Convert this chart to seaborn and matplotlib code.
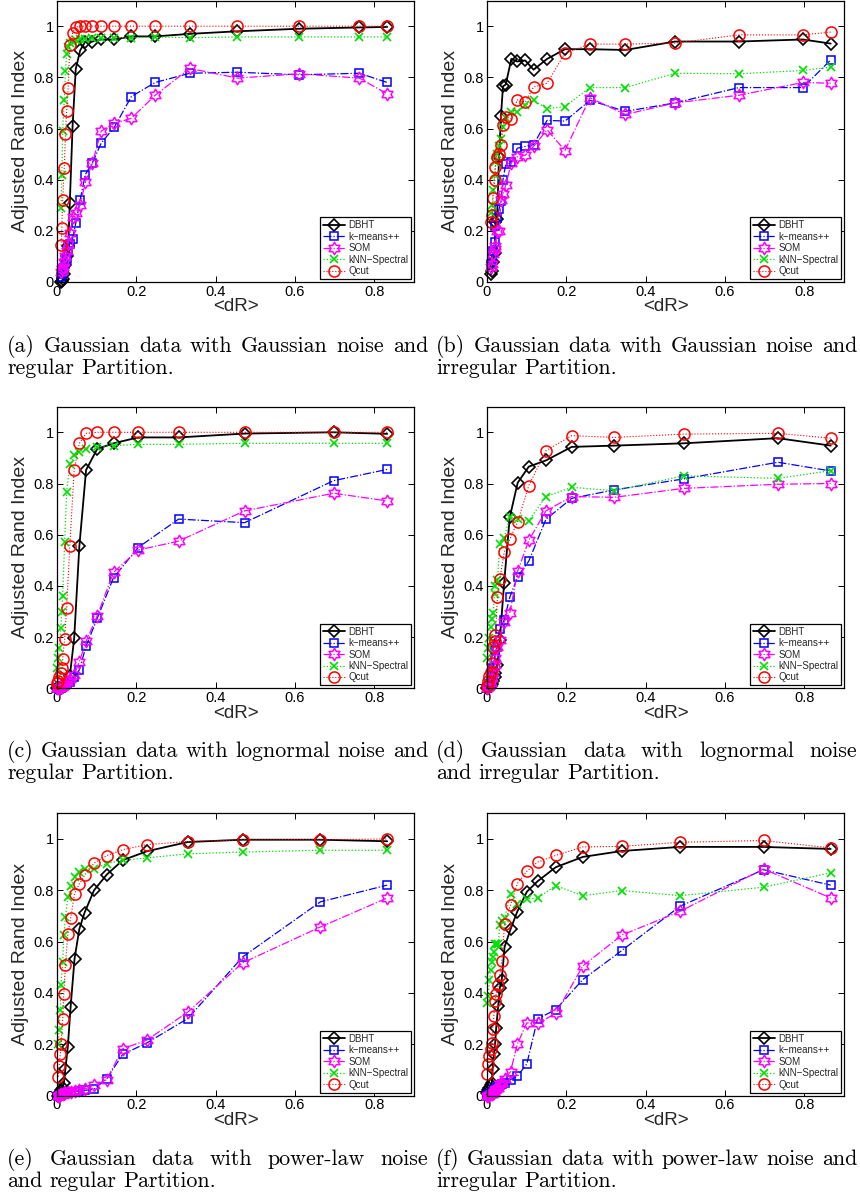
import numpy as np
import matplotlib
matplotlib.use("Agg")
import matplotlib.pyplot as plt
from matplotlib.path import Path
import seaborn as sns

# ---------------- data: ARI versus mean dR, one block per panel ----------------
x_a = [0.011, 0.013, 0.015, 0.019, 0.022, 0.025, 0.029, 0.033, 0.040, 0.048, 0.059,
       0.072, 0.090, 0.112, 0.145, 0.188, 0.248, 0.335, 0.455, 0.610, 0.762, 0.832]
dbht_a = [0.0, 0.003, 0.01, 0.03, 0.065, 0.10, 0.14, 0.31, 0.61, 0.833, 0.905,
          0.94, 0.94, 0.948, 0.948, 0.96, 0.96, 0.97, 0.98, 0.99, 0.995, 0.997]
kmeans_a = [0.02, 0.03, 0.04, 0.055, 0.07, 0.09, 0.12, 0.15, 0.17, 0.23, 0.32,
            0.42, 0.466, 0.543, 0.605, 0.725, 0.78, 0.816, 0.82, 0.81, 0.816, 0.78]
som_a = [0.04, 0.05, 0.06, 0.08, 0.10, 0.12, 0.15, 0.19, 0.254, 0.27, 0.30,
         0.39, 0.466, 0.59, 0.62, 0.64, 0.73, 0.835, 0.797, 0.814, 0.797, 0.735]
knn_a = [0.29, 0.42, 0.59, 0.71, 0.826, 0.89, 0.92, 0.935, 0.94, 0.945, 0.95,
         0.95, 0.952, 0.952, 0.955, 0.955, 0.958, 0.955, 0.958, 0.958, 0.958, 0.958]
qcut_a = [0.143, 0.21, 0.32, 0.445, 0.577, 0.67, 0.76, 0.927, 0.974, 0.996, 1.0,
          1.0, 1.0, 1.0, 1.0, 1.0, 1.0, 1.0, 1.0, 1.0, 1.0, 1.0]

x_b = [0.011, 0.014, 0.016, 0.020, 0.022, 0.026, 0.031, 0.036, 0.041, 0.048, 0.062,
       0.077, 0.097, 0.118, 0.152, 0.197, 0.260, 0.349, 0.474, 0.635, 0.796, 0.866]
dbht_b = [0.03, 0.043, 0.08, 0.115, 0.235, 0.245, 0.488, 0.65, 0.765, 0.772, 0.872,
          0.862, 0.866, 0.83, 0.872, 0.91, 0.91, 0.907, 0.94, 0.94, 0.948, 0.932]
kmeans_b = [0.07, 0.09, 0.12, 0.156, 0.22, 0.25, 0.284, 0.315, 0.40, 0.46, 0.47,
            0.523, 0.53, 0.537, 0.632, 0.629, 0.71, 0.667, 0.70, 0.76, 0.76, 0.868]
som_b = [0.06, 0.07, 0.11, 0.13, 0.14, 0.20, 0.20, 0.32, 0.345, 0.378, 0.466,
         0.49, 0.495, 0.53, 0.595, 0.514, 0.72, 0.655, 0.70, 0.73, 0.78, 0.777]
knn_b = [0.27, 0.30, 0.358, 0.42, 0.47, 0.50, 0.53, 0.56, 0.605, 0.64, 0.665,
         0.665, 0.69, 0.71, 0.677, 0.686, 0.76, 0.76, 0.816, 0.814, 0.827, 0.84]
qcut_b = [0.234, 0.26, 0.33, 0.397, 0.45, 0.49, 0.50, 0.534, 0.615, 0.645, 0.638,
          0.712, 0.703, 0.762, 0.777, 0.895, 0.93, 0.93, 0.934, 0.966, 0.966, 0.977]

x_c = [0.002, 0.004, 0.007, 0.010, 0.013, 0.015, 0.020, 0.025, 0.033, 0.044,
       0.057, 0.074, 0.102, 0.143, 0.205, 0.307, 0.473, 0.697, 0.832]
dbht_c = [0.0, 0.0, 0.0, 0.002, 0.004, 0.006, 0.01, 0.02, 0.047, 0.195,
          0.555, 0.853, 0.935, 0.957, 0.98, 0.98, 0.995, 1.0, 0.994]
kmeans_c = [0.0, 0.0, 0.003, 0.005, 0.008, 0.01, 0.013, 0.018, 0.026, 0.045,
            0.072, 0.165, 0.273, 0.432, 0.55, 0.661, 0.647, 0.811, 0.855]
som_c = [0.0, 0.0, 0.002, 0.004, 0.006, 0.01, 0.015, 0.025, 0.035, 0.052,
         0.104, 0.183, 0.283, 0.453, 0.54, 0.575, 0.693, 0.762, 0.732]
knn_c = [0.08, 0.12, 0.156, 0.234, 0.30, 0.362, 0.57, 0.766, 0.875, 0.91,
         0.925, 0.934, 0.944, 0.948, 0.953, 0.953, 0.957, 0.957, 0.957]
qcut_c = [0.02, 0.03, 0.045, 0.06, 0.08, 0.115, 0.193, 0.313, 0.557, 0.853,
          0.957, 0.996, 1.0, 1.0, 1.0, 1.0, 1.0, 1.0, 1.0]

x_d = [0.002, 0.004, 0.007, 0.010, 0.013, 0.016, 0.020, 0.022, 0.027, 0.033,
       0.044, 0.058, 0.078, 0.106, 0.149, 0.214, 0.321, 0.496, 0.733, 0.866]
dbht_d = [0.0, 0.002, 0.005, 0.01, 0.015, 0.03, 0.045, 0.058, 0.09, 0.19,
          0.413, 0.668, 0.803, 0.866, 0.89, 0.943, 0.948, 0.957, 0.977, 0.948]
kmeans_d = [0.0, 0.005, 0.015, 0.03, 0.05, 0.08, 0.12, 0.15, 0.16, 0.23,
            0.267, 0.355, 0.436, 0.497, 0.66, 0.742, 0.775, 0.818, 0.883, 0.849]
som_d = [0.0, 0.005, 0.01, 0.02, 0.04, 0.06, 0.09, 0.12, 0.16, 0.19,
         0.26, 0.293, 0.458, 0.578, 0.693, 0.749, 0.746, 0.781, 0.797, 0.80]
knn_d = [0.12, 0.156, 0.195, 0.24, 0.27, 0.293, 0.37, 0.40, 0.423, 0.564,
         0.586, 0.67, 0.66, 0.655, 0.749, 0.785, 0.772, 0.83, 0.82, 0.85]
qcut_d = [0.01, 0.03, 0.05, 0.065, 0.098, 0.16, 0.185, 0.21, 0.355, 0.426,
          0.531, 0.582, 0.651, 0.792, 0.928, 0.987, 0.98, 0.993, 0.996, 0.977]

x_e = [0.004, 0.006, 0.009, 0.011, 0.015, 0.018, 0.022, 0.028, 0.035, 0.045,
       0.057, 0.070, 0.094, 0.126, 0.166, 0.227, 0.330, 0.468, 0.664, 0.832]
dbht_e = [0.0, 0.005, 0.01, 0.02, 0.03, 0.049, 0.105, 0.19, 0.345, 0.534,
          0.649, 0.712, 0.80, 0.861, 0.917, 0.952, 0.988, 0.997, 0.997, 0.991]
kmeans_e = [0.0, 0.0, 0.0, 0.002, 0.004, 0.006, 0.008, 0.01, 0.012, 0.015,
            0.018, 0.02, 0.025, 0.065, 0.16, 0.205, 0.30, 0.54, 0.755, 0.82]
som_e = [0.0, 0.0, 0.002, 0.004, 0.006, 0.008, 0.01, 0.012, 0.015, 0.018,
         0.02, 0.025, 0.039, 0.062, 0.182, 0.216, 0.325, 0.517, 0.657, 0.77]
knn_e = [0.2, 0.257, 0.335, 0.432, 0.52, 0.625, 0.696, 0.773, 0.815, 0.852,
         0.87, 0.884, 0.884, 0.904, 0.917, 0.926, 0.942, 0.949, 0.956, 0.956]
qcut_e = [0.073, 0.114, 0.16, 0.2, 0.3, 0.397, 0.51, 0.63, 0.69, 0.786,
          0.825, 0.858, 0.906, 0.935, 0.958, 0.978, 0.99, 0.997, 0.997, 1.0]

x_f = [0.002, 0.004, 0.007, 0.010, 0.013, 0.015, 0.018, 0.021, 0.024, 0.029, 0.033,
       0.038, 0.045, 0.060, 0.077, 0.101, 0.128, 0.174, 0.242, 0.340, 0.487, 0.697, 0.866]
dbht_f = [0.01, 0.02, 0.03, 0.04, 0.049, 0.104, 0.16, 0.2, 0.265, 0.35, 0.42,
          0.452, 0.579, 0.648, 0.717, 0.794, 0.835, 0.89, 0.93, 0.953, 0.969, 0.969, 0.961]
kmeans_f = [0.0, 0.002, 0.005, 0.008, 0.01, 0.015, 0.02, 0.025, 0.03, 0.035, 0.04,
            0.045, 0.05, 0.062, 0.075, 0.123, 0.299, 0.335, 0.452, 0.565, 0.738, 0.88, 0.82]
som_f = [0.0, 0.0, 0.002, 0.004, 0.006, 0.01, 0.015, 0.02, 0.025, 0.03, 0.043,
         0.05, 0.065, 0.093, 0.2, 0.283, 0.281, 0.32, 0.505, 0.625, 0.718, 0.883, 0.77]
knn_f = [0.36, 0.387, 0.45, 0.49, 0.52, 0.54, 0.56, 0.59, 0.59, 0.59, 0.665,
         0.68, 0.69, 0.784, 0.748, 0.766, 0.77, 0.818, 0.779, 0.799, 0.779, 0.812, 0.868]
qcut_f = [0.082, 0.121, 0.153, 0.18, 0.205, 0.26, 0.309, 0.37, 0.396, 0.429, 0.469,
          0.523, 0.67, 0.743, 0.826, 0.874, 0.91, 0.936, 0.969, 0.971, 0.987, 0.994, 0.965]

method_names = ["DBHT", "k\u2212means++", "SOM", "kNN\u2212Spectral", "Qcut"]
x_ticks = [0, 0.2, 0.4, 0.6, 0.8]
x_tick_labels = ["0", "0.2", "0.4", "0.6", "0.8"]
y_ticks = [0, 0.2, 0.4, 0.6, 0.8, 1.0]
y_tick_labels = ["0", "0.2", "0.4", "0.6", "0.8", "1"]

captions = [
    ("(a) Gaussian data with Gaussian noise and", "regular Partition."),
    ("(b) Gaussian data with Gaussian noise and", "irregular Partition."),
    ("(c) Gaussian data with lognormal noise and", "regular Partition."),
    ("(d) Gaussian data with lognormal noise", "and irregular Partition."),
    ("(e) Gaussian data with power-law noise", "and regular Partition."),
    ("(f) Gaussian data with power-law noise and", "irregular Partition."),
]

panels = [
    (x_a, [dbht_a, kmeans_a, som_a, knn_a, qcut_a]),
    (x_b, [dbht_b, kmeans_b, som_b, knn_b, qcut_b]),
    (x_c, [dbht_c, kmeans_c, som_c, knn_c, qcut_c]),
    (x_d, [dbht_d, kmeans_d, som_d, knn_d, qcut_d]),
    (x_e, [dbht_e, kmeans_e, som_e, knn_e, qcut_e]),
    (x_f, [dbht_f, kmeans_f, som_f, knn_f, qcut_f]),
]

# ---------------- styling ----------------
sns.set_theme(style="ticks")
plt.rcParams["font.family"] = ["Liberation Sans", "DejaVu Sans"]
plt.rcParams["axes.unicode_minus"] = True

# six-pointed star (hexagram) outline used for the SOM series
_ang_out = np.pi / 2 + np.arange(6) * np.pi / 3
_ang_in = _ang_out + np.pi / 6
_r_in = 1 / np.sqrt(3)
_verts = []
for ao, ai in zip(_ang_out, _ang_in):
    _verts.append((np.cos(ao), np.sin(ao)))
    _verts.append((_r_in * np.cos(ai), _r_in * np.sin(ai)))
_verts.append(_verts[0])
hexagram = Path(_verts, closed=True)

styles = [
    dict(color="black", ls="-", lw=1.3, marker="D", ms=6.5, mew=1.2),
    dict(color="#0000ff", ls="-.", lw=0.9, marker="s", ms=6.0, mew=1.1),
    dict(color="#ff00ff", ls="-.", lw=0.9, marker=hexagram, ms=9.0, mew=1.1),
    dict(color="#00e000", ls=":", lw=0.9, marker="x", ms=5.5, mew=1.2),
    dict(color="#ff0000", ls=":", lw=0.8, marker="o", ms=8.0, mew=1.1),
]

W, H = 860, 1201
fig = plt.figure(figsize=(W / 100, H / 100), dpi=100)
fig.patch.set_facecolor("white")

col_left = [56.7, 486.7]
row_span = [(0.6, 282.0), (406.7, 688.3), (813.3, 1095.5)]
ax_width = 357.5

axes = []
for i, (xs, series) in enumerate(panels):
    r, c = divmod(i, 2)
    top, bot = row_span[r]
    ax = fig.add_axes([col_left[c] / W, 1 - bot / H, ax_width / W, (bot - top) / H])
    ax.set_facecolor("white")
    for ys, st, name in zip(series, styles, method_names):
        sns.lineplot(x=xs, y=ys, ax=ax, color=st["color"], linestyle=st["ls"],
                     linewidth=st["lw"], marker=st["marker"], markersize=st["ms"],
                     markerfacecolor="none", markeredgecolor=st["color"],
                     markeredgewidth=st["mew"], label=name, errorbar=None,
                     estimator=None, sort=False, clip_on=False)
    ax.set_xlim(0, 0.90)
    ax.set_ylim(0, 1.1)
    ax.set_xticks(x_ticks)
    ax.set_xticklabels(x_tick_labels)
    ax.set_yticks(y_ticks)
    ax.set_yticklabels(y_tick_labels)
    ax.tick_params(direction="in", top=True, right=True, length=4, width=0.7,
                   labelsize=10.5, pad=2.0, colors="black")
    for sp in ax.spines.values():
        sp.set_visible(True)
        sp.set_color("black")
        sp.set_linewidth(0.9)
    ax.set_xlabel("<dR>", fontsize=13.5)
    ax.set_ylabel("Adjusted Rand Index", fontsize=14)
    ax.xaxis.set_label_coords(0.5, -0.058)
    ax.yaxis.set_label_coords(-0.078, 0.5)
    leg = ax.legend(loc="lower right", fontsize=7, frameon=True, fancybox=False,
                    edgecolor="black", framealpha=1, borderaxespad=0.3,
                    handlelength=2.3, handletextpad=0.35, labelspacing=0.15,
                    borderpad=0.3)
    leg.get_frame().set_linewidth(0.9)
    axes.append(ax)

# ---------------- sub-figure captions (justified first line) ----------------
renderer = fig.canvas.get_renderer()
CAP_FONT = "cmr10"


def text_width(s, size):
    t = fig.text(0, 0, s, fontsize=size, fontfamily=CAP_FONT)
    w = t.get_window_extent(renderer).width
    t.remove()
    return w


space_w10 = text_width("a a", 10) - text_width("aa", 10)
natural = []
for l1, _ in captions:
    words = l1.split(" ")
    natural.append(sum(text_width(w, 10) for w in words) + space_w10 * (len(words) - 1))
col_text_w = 421.0
cap_size = 10 * col_text_w / max(natural)
space_w = space_w10 * cap_size / 10


def put_line(s, x0, ybase, justify):
    words = s.split(" ")
    widths = [text_width(w, cap_size) for w in words]
    if justify and len(words) > 1:
        gap = (col_text_w - sum(widths)) / (len(words) - 1)
    else:
        gap = space_w
    x = x0
    for w, wd in zip(words, widths):
        fig.text(x / W, 1 - ybase / H, w, fontsize=cap_size, fontfamily=CAP_FONT,
                 ha="left", va="baseline", color="black")
        x += wd + gap


cap_x = [7.0, 436.0]
cap_base = [352.0, 757.0, 1165.0]
line_gap = 22.0
for i, (l1, l2) in enumerate(captions):
    r, c = divmod(i, 2)
    put_line(l1, cap_x[c], cap_base[r], True)
    put_line(l2, cap_x[c], cap_base[r] + line_gap, False)

fig.savefig("out.png", dpi=100, facecolor="white")
